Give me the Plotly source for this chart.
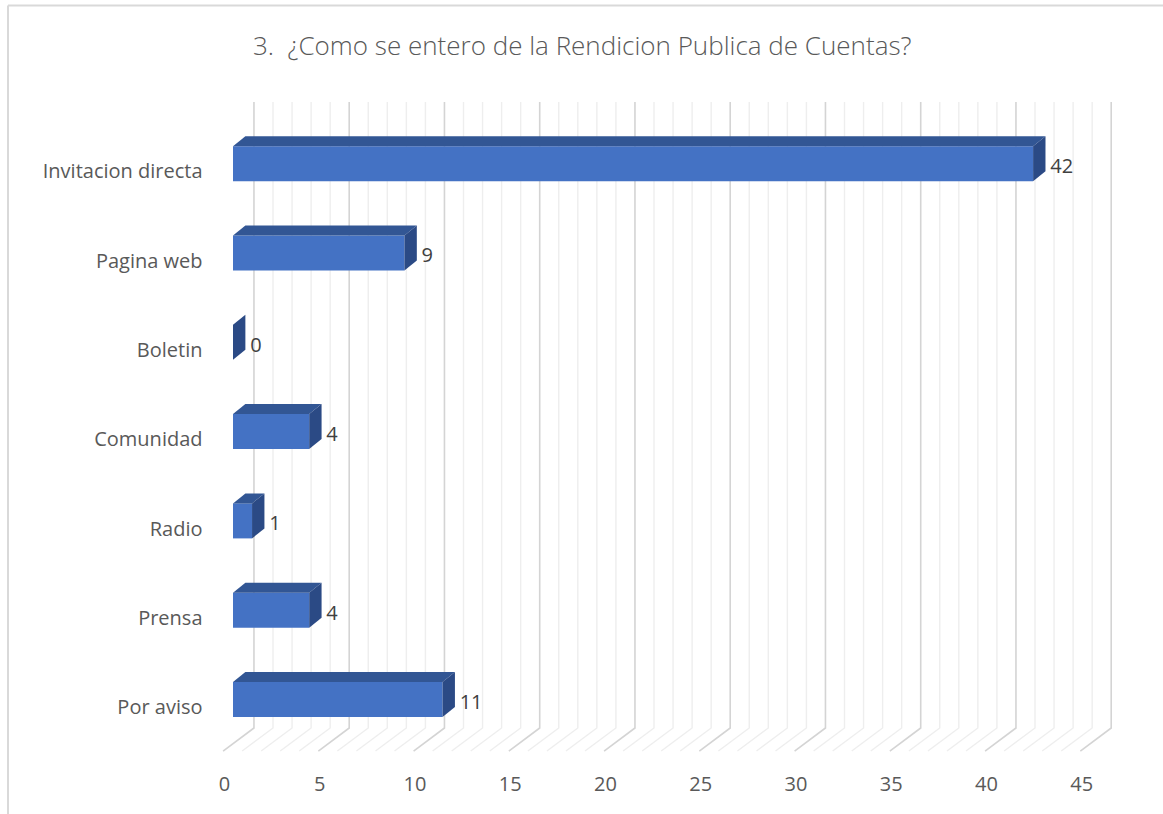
import plotly.graph_objects as go

# ---- data ----
categories = ["Por aviso", "Prensa", "Radio", "Comunidad", "Boletin", "Pagina web", "Invitacion directa"]
values = [11, 4, 1, 4, 0, 9, 42]
tick_values = [0, 5, 10, 15, 20, 25, 30, 35, 40, 45]
tick_labels = ["0", "5", "10", "15", "20", "25", "30", "35", "40", "45"]
grid_values = list(range(0, 46))
title_text = "3.  ¿Como se entero de la Rendicion Publica de Cuentas?"

# ---- geometry / style (3D look) ----
W, H = 1163, 814
X0_PX, PX_PER_X = 233, 19.05
Y0_PX, PX_PER_Y = 707, 89.3
BACK_DX = 1.1          # back wall shift (x units)
FRONT_DX = -0.52       # front floor edge shift
WALL_BOTTOM = -0.235
WALL_TOP = 6.775
FLOOR_FRONT = -0.493
BAR_LO, BAR_HI = -0.112, 0.28
DEPTH_DX, DEPTH_DY = 0.65, 0.112

FRONT_COL = "#4472C4"
TOP_COL = "#325694"
SIDE_COL = "#2B4A85"
TEXT_COL = "#595959"
FONT = "Open Sans"

xr = [-X0_PX / PX_PER_X, (W - X0_PX) / PX_PER_X]
yr = [(Y0_PX - H) / PX_PER_Y, Y0_PX / PX_PER_Y]

fig = go.Figure()

shapes = [
    dict(type="line", xref="paper", yref="paper", x0=8 / W, x1=1, y0=1 - 5.5 / H, y1=1 - 5.5 / H,
         line=dict(color="#D9D9D9", width=2), layer="below"),
    dict(type="line", xref="paper", yref="paper", x0=8 / W, x1=8 / W, y0=0, y1=1 - 5.5 / H,
         line=dict(color="#D9D9D9", width=2), layer="below"),
]

# gridlines: back wall + floor (below the bars)
for v in grid_values:
    major = v % 5 == 0
    col = "#D4D4D4" if major else "#EEEEEE"
    wd = 1.6 if major else 1.4
    path = "M {a},{b} L {c},{d} L {c},{e}".format(
        a=v + FRONT_DX, b=FLOOR_FRONT, c=v + BACK_DX, d=WALL_BOTTOM, e=WALL_TOP)
    shapes.append(dict(type="path", xref="x", yref="y", path=path,
                       line=dict(color=col, width=wd), layer="below"))

# bars
for i, (c, v) in enumerate(zip(categories, values)):
    lo, hi = i + BAR_LO, i + BAR_HI
    if v > 0:
        fig.add_trace(go.Bar(
            x=[v], y=[(lo + hi) / 2], base=0, width=hi - lo, orientation="h",
            marker=dict(color=FRONT_COL, line=dict(width=0)),
            showlegend=False, hoverinfo="skip"))
        # top face
        fig.add_trace(go.Scatter(
            x=[0, v, v + DEPTH_DX, DEPTH_DX, 0],
            y=[hi, hi, hi + DEPTH_DY, hi + DEPTH_DY, hi],
            mode="lines", fill="toself", fillcolor=TOP_COL,
            line=dict(width=0, color=TOP_COL), hoverinfo="skip", showlegend=False))
    # side face
    fig.add_trace(go.Scatter(
        x=[v, v, v + DEPTH_DX, v + DEPTH_DX, v],
        y=[lo, hi, hi + DEPTH_DY, lo + DEPTH_DY, lo],
        mode="lines", fill="toself", fillcolor=SIDE_COL,
        line=dict(width=0, color=SIDE_COL), hoverinfo="skip", showlegend=False))

# value labels
fig.add_trace(go.Scatter(
    x=[v + DEPTH_DX + 0.25 for v in values],
    y=[i + 0.035 for i in range(len(values))],
    mode="text", text=[str(v) for v in values], textposition="middle right",
    textfont=dict(family=FONT, size=20, color="#404040"),
    hoverinfo="skip", showlegend=False))

# category labels
fig.add_trace(go.Scatter(
    x=[-1.6] * len(categories),
    y=[i - 0.025 for i in range(len(categories))],
    mode="text", text=categories, textposition="middle left",
    textfont=dict(family=FONT, size=20, color=TEXT_COL),
    hoverinfo="skip", showlegend=False))

# x tick labels
fig.add_trace(go.Scatter(
    x=[t - 0.45 for t in tick_values],
    y=[-0.885] * len(tick_values),
    mode="text", text=tick_labels, textposition="middle center",
    textfont=dict(family=FONT, size=20, color=TEXT_COL),
    hoverinfo="skip", showlegend=False))

fig.update_layout(
    width=W, height=H, autosize=False,
    margin=dict(l=0, r=0, t=0, b=0),
    paper_bgcolor="white", plot_bgcolor="white",
    barmode="overlay",
    xaxis=dict(range=xr, visible=False, fixedrange=True),
    yaxis=dict(range=yr, visible=False, fixedrange=True),
    annotations=[dict(
        text=title_text, x=582 / W, y=1 - 45 / H, xref="paper", yref="paper",
        xanchor="center", yanchor="middle", showarrow=False,
        font=dict(family=FONT, size=26, color="#595959", weight=300))],
    shapes=shapes,
)

fig.write_html("out.html", config={"displayModeBar": False},
               post_script="document.body.style.margin='0';document.body.style.overflow='hidden';")
